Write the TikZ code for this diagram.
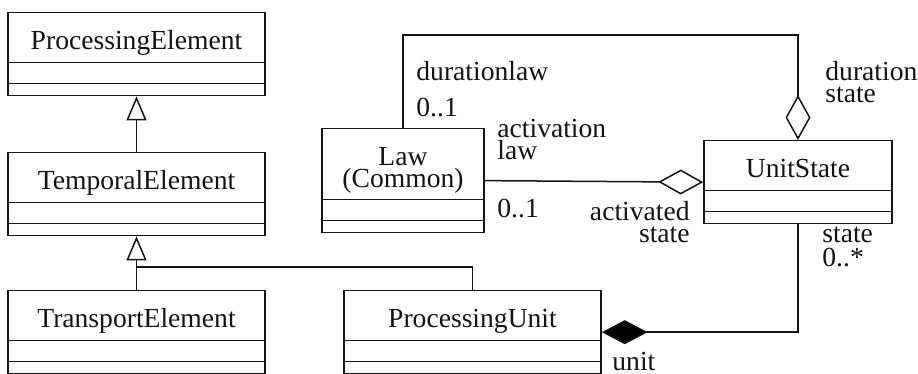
\documentclass[tikz,border=0pt]{standalone}
\usepackage{fontspec}
\setmainfont{Liberation Serif}
\usepackage{xcolor}
\usepackage{tikz}
\usetikzlibrary{arrows.meta,shapes.multipart}
\definecolor{cInk}{HTML}{141414}
\definecolor{cPaper}{HTML}{FFFFFF}
\tikzset{
  umlbox/.style={draw=cInk,rectangle split,rectangle split parts=3,
      minimum width=#1,inner xsep=0pt,inner ysep=2.6pt,
      line width=0.75pt,text=cInk,
      font=\fontsize{13.8}{11}\selectfont},
  umlline/.style={draw=cInk,line width=0.75pt},
  genarrow/.style={umlline,-{Triangle[open,length=12pt,width=10pt]}},
  aggarrow/.style={umlline,{Diamond[open,length=22.5pt,width=12.5pt]}-},
  comparrow/.style={umlline,{Diamond[length=23pt,width=12pt]}-},
  rolelab/.style={font=\fontsize{13.8}{11.2}\selectfont,inner sep=0pt,
      text=cInk,align=left},
}
\newcommand{\umlclass}[4]{%
  \node[umlbox=#3,anchor=north] (#1) at (#2)
    {\rule{0pt}{15.5pt}#4\rule[-3.5pt]{0pt}{0pt}%
     \nodepart{two}\hspace*{1pt}\nodepart{three}\hspace*{1pt}};}

\begin{document}
\begin{tikzpicture}[x=0.5pt,y=-0.5pt]
  \useasboundingbox[fill=cPaper] (0,0) rectangle (918,374);

  \umlclass{pe}{136.5,12}{128.5pt}{ProcessingElement}
  \umlclass{te}{136.5,152}{128.5pt}{TemporalElement}
  \umlclass{tre}{136.5,290}{128.5pt}{TransportElement}
  \umlclass{pu}{472.5,290}{128.5pt}{ProcessingUnit}
  \umlclass{law}{403,128}{81pt}{\parbox[t]{78pt}{\centering Law\\(Common)}}
  \umlclass{us}{798,140}{94pt}{UnitState}

  % inheritance
  \coordinate (gj) at (136.5,267);
  \draw[genarrow] (te.north) -- (pe.south);
  \draw[genarrow] (tre.north) -- (te.south);
  \draw[umlline] (pu.north) |- (gj);

  % associations
  \coordinate (dtop) at (798,35);
  \draw[aggarrow] (us.north) -- (dtop) -| (law.north);
  \draw[aggarrow] (us.west) -- (law.east);
  \draw[comparrow] (pu.east) -| (us.south);

  \node[rolelab,anchor=base west] (dlawlab) at (416,81) {durationlaw};
  \node[rolelab,anchor=base west] (dlawmul) at (416,117) {0..1};
  \node[rolelab,anchor=base west] (alawlab) at (497,160) {activation\\law};
  \node[rolelab,anchor=base west] (alawmul) at (497,218) {0..1};
  \node[rolelab,anchor=base east,align=right] (astatelab) at (690,243)
    {activated\\state};
  \node[rolelab,anchor=base west] (dstatelab) at (825,103) {duration\\state};
  \node[rolelab,anchor=base west] (statelab) at (822,243) {state};
  \node[rolelab,anchor=base west] (statemul) at (822,267) {0..*};
  \node[rolelab,anchor=base west] (unitlab) at (612,371) {unit};
\end{tikzpicture}
\end{document}
